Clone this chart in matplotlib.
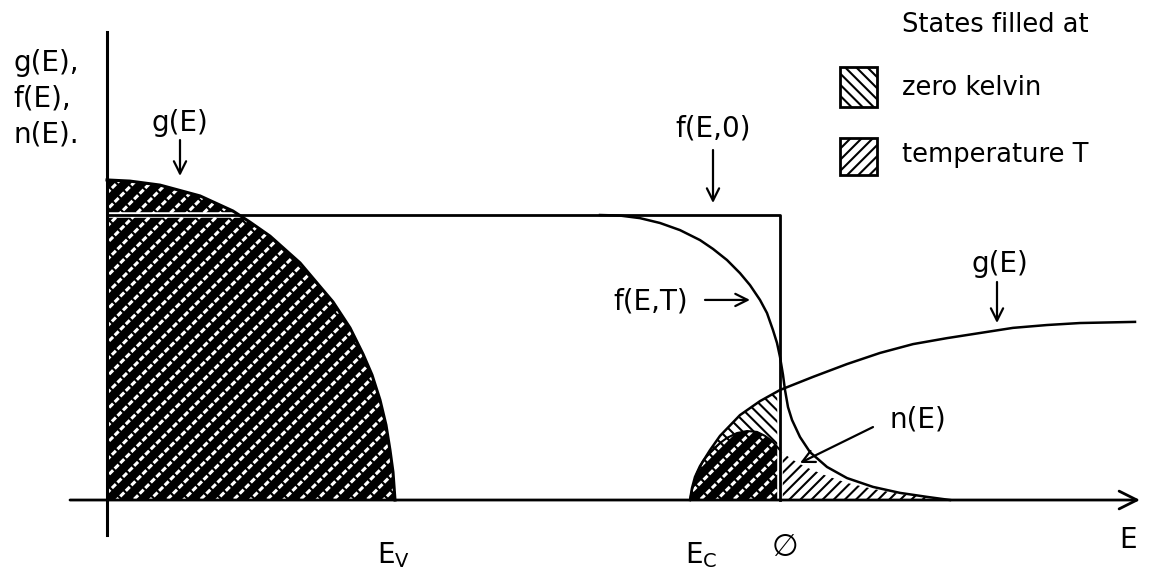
import matplotlib.pyplot as plt
from matplotlib.patches import Rectangle

plt.rcParams['hatch.linewidth'] = 2.0
plt.rcParams['font.family'] = ['DejaVu Sans']

# valence band density of states g(E)
vb_E = [0.00, 0.23, 0.53, 0.93, 1.26, 1.43, 1.63, 1.93, 2.26, 2.43, 2.56, 2.65,
        2.73, 2.79, 2.83, 2.86, 2.88]
vb_g = [1.123, 1.119, 1.105, 1.067, 1.014, 0.975, 0.926, 0.832, 0.695, 0.604,
        0.512, 0.439, 0.351, 0.263, 0.175, 0.098, 0.0]

# conduction band density of states g(E)
cb_E = [5.83, 5.85, 5.88, 5.93, 6.03, 6.13, 6.33, 6.53, 6.73, 7.06, 7.40, 7.73,
        8.06, 8.40, 8.73, 9.06, 9.40, 9.73, 10.28]
cb_g = [0.0, 0.042, 0.081, 0.119, 0.175, 0.225, 0.298, 0.347, 0.386, 0.432,
        0.477, 0.516, 0.547, 0.568, 0.586, 0.604, 0.614, 0.621, 0.625]

# Fermi level
E_f = 6.73

# f(E,0) step
f0_E = [0.0, E_f, E_f]
f0 = [1.0, 1.0, 0.0]

# f(E,T)
fT_E = [4.93, 5.13, 5.33, 5.53, 5.73, 5.93, 6.06, 6.20, 6.33, 6.43, 6.53, 6.60,
        6.66, 6.70, 6.73, 6.76, 6.78, 6.81, 6.85, 6.93, 7.03, 7.20, 7.40, 7.66,
        7.93, 8.20, 8.43]
fT = [1.000, 0.998, 0.989, 0.972, 0.947, 0.912, 0.881, 0.842, 0.796, 0.754,
      0.702, 0.656, 0.596, 0.551, 0.502, 0.439, 0.386, 0.326, 0.281, 0.221,
      0.168, 0.116, 0.077, 0.046, 0.025, 0.011, 0.0]

# n(E) below and above the Fermi level
nL_E = [5.83, 5.85, 5.90, 5.96, 6.03, 6.13, 6.20, 6.30, 6.40, 6.50, 6.58, 6.65, 6.73]
nL = [0.0, 0.035, 0.095, 0.137, 0.168, 0.200, 0.218, 0.235, 0.242, 0.239,
      0.225, 0.207, 0.175]
nR_E = [6.73, 6.83, 6.93, 7.03, 7.20, 7.40, 7.66, 7.93, 8.20, 8.43]
nR = [0.175, 0.147, 0.126, 0.109, 0.084, 0.060, 0.039, 0.021, 0.011, 0.0]

fig = plt.figure(figsize=(11.5, 5.74), dpi=100)
ax = fig.add_axes([0, 0, 1, 1])
ax.set_xlim(-1.07, 10.43)
ax.set_ylim(-0.2596, 1.7544)
ax.axis('off')


def hatch_lw(artist, w):
    if hasattr(artist, 'set_hatch_linewidth'):
        artist.set_hatch_linewidth(w)
    return artist


def both_fill(x, y):
    # states filled at both 0 K and T: dark with broken white dashes
    hatch_lw(ax.fill_between(x, y, 0, facecolor='black', edgecolor='white',
                             hatch='//', linewidth=0, zorder=1), 2.2)
    hatch_lw(ax.fill_between(x, y, 0, facecolor='none', edgecolor='black',
                             hatch='\\\\\\', linewidth=0, zorder=1.5), 1.6)


both_fill(vb_E, vb_g)
both_fill(nL_E, nL)

# filled only at zero kelvin
k = cb_E.index(E_f)
zk, = ax.fill(cb_E[:k + 1] + nL_E[::-1], cb_g[:k + 1] + nL[::-1],
              facecolor='white', edgecolor='black', hatch='\\\\\\',
              linewidth=0, zorder=1)
hatch_lw(zk, 1.5)
# filled only at temperature T
hatch_lw(ax.fill_between(nR_E, nR, 0, facecolor='white', edgecolor='black',
                         hatch='///', linewidth=0, zorder=1), 1.5)

lw = 1.8
ax.plot(vb_E, vb_g, color='black', lw=2.2, zorder=3)
ax.plot(nL_E, nL, color='black', lw=1.5, zorder=3)
ax.plot(cb_E, cb_g, color='black', lw=lw, zorder=3)
ax.plot(f0_E, f0, color='white', lw=4.0, zorder=2.5)
ax.plot(f0_E, f0, color='black', lw=2.0, zorder=3)
ax.plot(fT_E, fT, color='black', lw=lw, zorder=3)

# axes
ax.plot([0, 0], [-0.123, 1.642], color='black', lw=2.2, zorder=4)
ax.annotate('', xy=(10.33, 0), xytext=(-0.37, 0),
            arrowprops=dict(arrowstyle='->', lw=2.0, mutation_scale=32,
                            shrinkA=0, shrinkB=0, color='black'), zorder=4)

fs = 20
for txt, yy in [('g(E),', 1.505), ('f(E),', 1.38), ('n(E).', 1.253)]:
    ax.text(-0.94, yy, txt, fontsize=fs, ha='left', va='baseline')

arrow = dict(arrowstyle='->', lw=1.6, mutation_scale=22, shrinkA=0, shrinkB=0,
             color='black')


def label(txt, x, y, tail, head, **kw):
    ax.text(x, y, txt, fontsize=fs, **kw)
    ax.annotate('', xy=head, xytext=tail, arrowprops=arrow)


label('g(E)', 0.73, 1.295, (0.73, 1.263), (0.73, 1.137), ha='center', va='baseline')
label('f(E,0)', 6.06, 1.274, (6.06, 1.228), (6.06, 1.042), ha='center', va='baseline')
label('f(E,T)', 5.06, 0.695, (5.98, 0.702), (6.43, 0.702), ha='left', va='center')
label('g(E)', 8.93, 0.80, (8.90, 0.765), (8.90, 0.621), ha='center', va='baseline')
label('n(E)', 7.83, 0.256, (7.66, 0.256), (6.93, 0.13), ha='left', va='baseline')

ax.text(2.70, -0.221, r'E$_{\mathrm{V}}$', fontsize=fs, ha='left', va='baseline')
ax.text(5.78, -0.221, r'E$_{\mathrm{C}}$', fontsize=fs, ha='left', va='baseline')
ax.text(6.78, -0.168, '\u2205', fontsize=fs + 2, ha='center', va='center')
ax.text(10.21, -0.14, 'E', fontsize=fs, ha='center', va='center')

# legend
lfs = 18.5
ax.text(7.95, 1.642, 'States filled at', fontsize=lfs, ha='left', va='baseline')
b1 = ax.add_patch(Rectangle((7.33, 1.379), 0.37, 0.14, facecolor='white',
                            edgecolor='black', hatch='\\\\\\', lw=2))
b2 = ax.add_patch(Rectangle((7.33, 1.140), 0.37, 0.13, facecolor='white',
                            edgecolor='black', hatch='///', lw=2))
hatch_lw(b1, 1.5)
hatch_lw(b2, 1.5)
ax.text(7.95, 1.446, 'zero kelvin', fontsize=lfs, ha='left', va='center')
ax.text(7.95, 1.211, 'temperature T', fontsize=lfs, ha='left', va='center')

fig.savefig('out.png', dpi=100)
